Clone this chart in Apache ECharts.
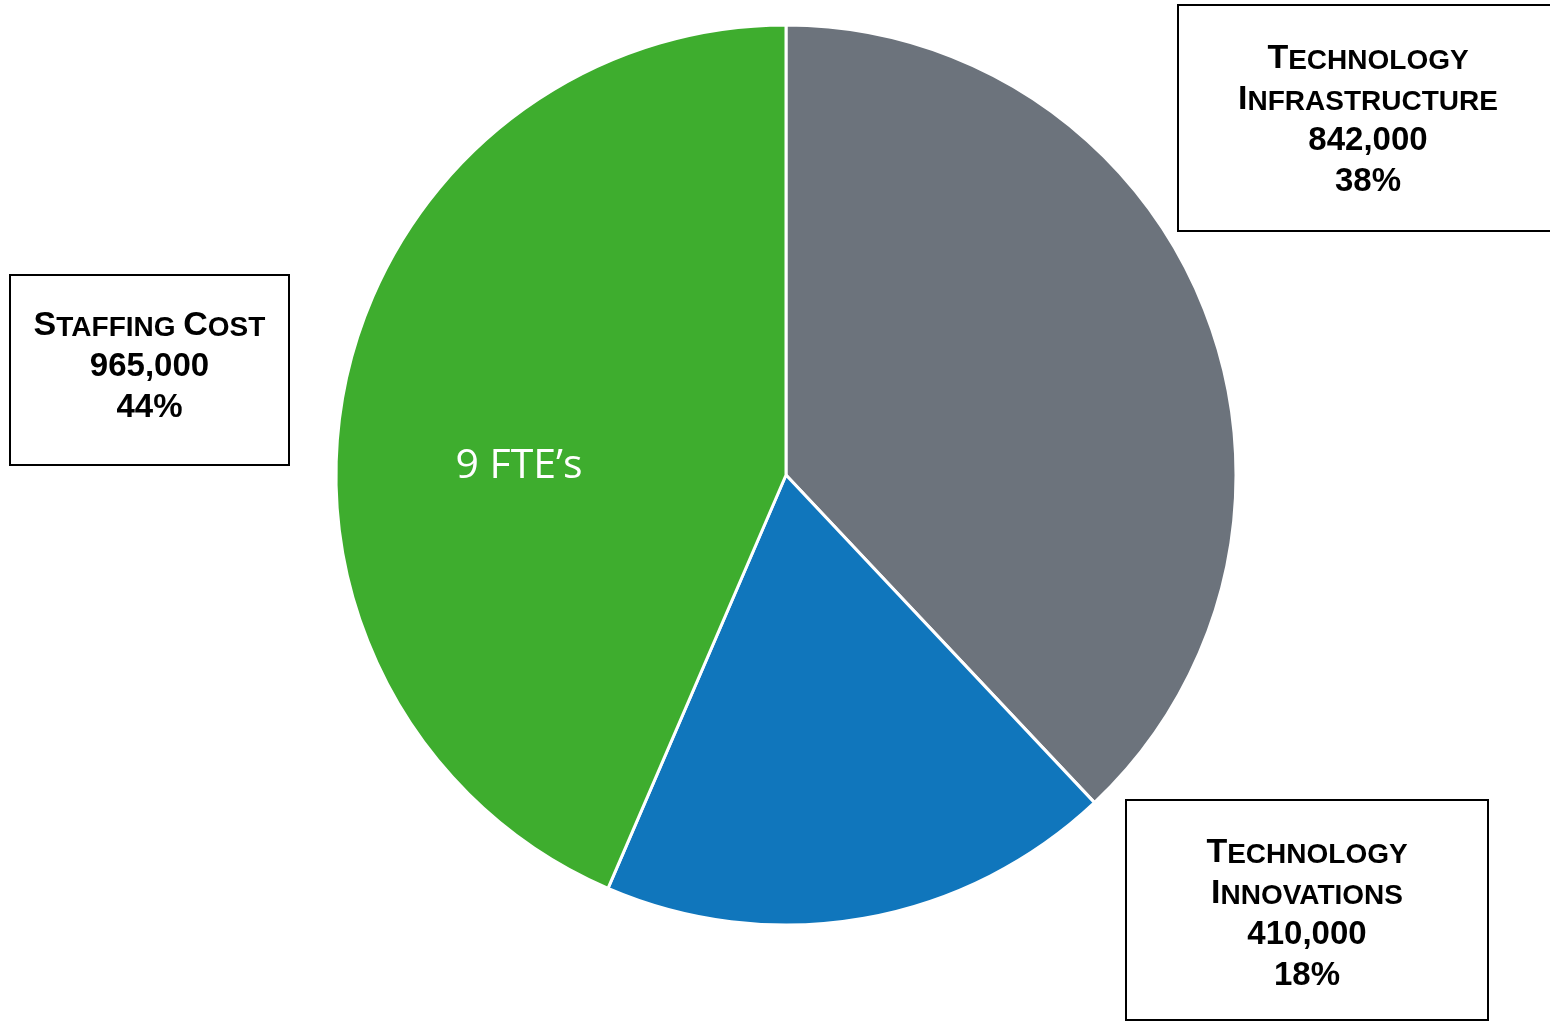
<!DOCTYPE html>
<html>
<head>
<meta charset="utf-8">
<script src="https://cdn.jsdelivr.net/npm/echarts@6/dist/echarts.min.js"></script>
<style>
html,body{margin:0;padding:0;background:#fff;}
#chart{width:1550px;height:1023px;}
</style>
</head>
<body>
<div id="chart"></div>
<script>
// ---- data ----
const categories = ['Technology\nInfrastructure', 'Technology\nInnovations', 'Staffing Cost'];
const values = [842000, 410000, 965000];
const sliceColors = ['#6c737c', '#1076bc', '#3ead2e'];
const fteNote = '9 FTE\u2019s';

// ---- layout (label boxes) ----
const boxes = [
  { cx: 1368, top: 6,   w: 378, pad: [28.6, 0, 31.4, 0] },
  { cx: 1307, top: 801, w: 360, pad: [27.6, 0, 26.4, 0] },
  { cx: 149.5, top: 276, w: 277, pad: [25.6, 0, 39.4, 0] }
];

function smallCaps(line) {
  return line.split(' ').map(function (w) {
    return '{B|' + w[0].toUpperCase() + '}{S|' + w.slice(1).toUpperCase() + '}';
  }).join('{S| }');
}

const seriesData = values.map(function (v, i) {
  return {
    name: categories[i],
    value: v,
    itemStyle: { color: sliceColors[i] },
    label: { padding: boxes[i].pad, width: boxes[i].w }
  };
});

const chart = echarts.init(document.getElementById('chart'), null, { renderer: 'canvas' });
const FONT = '"Liberation Sans", Arial, sans-serif';
chart.setOption({
  animation: false,
  backgroundColor: '#ffffff',
  series: [{
    type: 'pie',
    center: [786, 475],
    radius: 450,
    startAngle: 90,
    clockwise: true,
    percentPrecision: 0,
    avoidLabelOverlap: false,
    emphasis: { disabled: true },
    itemStyle: { borderColor: '#ffffff', borderWidth: 3 },
    labelLine: { show: false },
    label: {
      show: true,
      position: 'outside',
      backgroundColor: '#ffffff',
      borderColor: '#000000',
      borderWidth: 2,
      lineHeight: 41,
      align: 'center',
      fontFamily: FONT,
      fontWeight: 'bold',
      color: '#000',
      formatter: function (p) {
        return p.name.split('\n').map(smallCaps).join('\n') +
          '\n{N|' + p.value.toLocaleString('en-US') + '}' +
          '\n{N|' + p.percent + '%}';
      },
      rich: {
        B: { fontSize: 34, fontWeight: 'bold', fontFamily: FONT, color: '#000', lineHeight: 41, verticalAlign: 'bottom' },
        S: { fontSize: 28, fontWeight: 'bold', fontFamily: FONT, color: '#000', lineHeight: 37, verticalAlign: 'bottom' },
        N: { fontSize: 33, fontWeight: 'bold', fontFamily: FONT, color: '#000', lineHeight: 41, verticalAlign: 'bottom' }
      }
    },
    labelLayout: function (p) {
      const b = boxes[p.dataIndex];
      return { x: b.cx, y: b.top, align: 'center', verticalAlign: 'top' };
    },
    data: seriesData
  }],
  graphic: {
    elements: [{
      type: 'text',
      x: 519,
      y: 466,
      z: 1000,
      zlevel: 1,
      silent: true,
      style: {
        text: fteNote,
        fill: '#ffffff',
        font: '41px "Open Sans", "Noto Sans", sans-serif',
        align: 'center',
        verticalAlign: 'middle'
      }
    }]
  }
});
</script>
</body>
</html>
